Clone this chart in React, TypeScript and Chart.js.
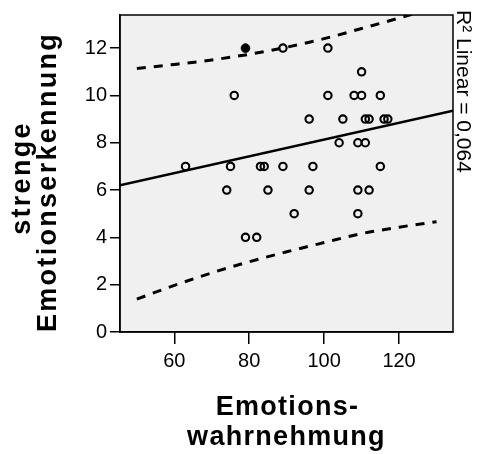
import React, { useEffect, useRef } from "react";
import { Chart, registerables } from "chart.js";

Chart.register(...registerables);

const FONT = "'Liberation Sans', Arial, Helvetica, sans-serif";

// axis ranges and ticks
const xMin = 45.5;
const xMax = 134.4;
const yMin = 0;
const yMax = 13.4;
const xTicks = [60, 80, 100, 120];
const yTicks = [0, 2, 4, 6, 8, 10, 12];

// observed points (Emotionswahrnehmung, strenge Emotionserkennung)
const wahrnehmung = [
  89, 101,
  110,
  76, 101, 108, 110, 115,
  96, 105, 111, 112, 116, 117,
  104, 109, 111,
  63, 75, 83, 84, 89, 97, 115,
  74, 85, 96, 109, 112,
  92, 109,
  79, 82,
];
const erkennung = [
  12, 12,
  11,
  10, 10, 10, 10, 10,
  9, 9, 9, 9, 9, 9,
  8, 8, 8,
  7, 7, 7, 7, 7, 7, 7,
  6, 6, 6, 6, 6,
  5, 5,
  4, 4,
];

// highlighted (filled) point
const highlightX = [79];
const highlightY = [12];

// linear fit line
const fitX = [45.5, 134.4];
const fitY = [6.2, 9.35];

// prediction interval curves
const bandX = [50, 60, 70, 80, 90, 100, 110, 120, 130];
const bandUpper = [11.14, 11.31, 11.5, 11.74, 12.04, 12.4, 12.83, 13.27, 13.72];
const bandLower = [1.39, 1.97, 2.5, 2.97, 3.39, 3.78, 4.16, 4.43, 4.66];

const xTitle = ["Emotions-", "wahrnehmung"];
const yTitle = ["strenge", "Emotionserkennung"];
const r2Label = "R\u00B2 Linear = 0,064";

const toXY = (xs: number[], ys: number[]) => xs.map((x, i) => ({ x, y: ys[i] }));

const decorPlugin = {
  id: "decor",
  beforeDraw(chart: any) {
    const { ctx, chartArea: a } = chart;
    ctx.save();
    ctx.fillStyle = "#f0f0f0";
    ctx.fillRect(a.left, a.top, a.right - a.left, a.bottom - a.top);
    ctx.restore();
  },
  afterDraw(chart: any) {
    const { ctx, chartArea: a } = chart;
    ctx.save();
    ctx.strokeStyle = "#000";
    ctx.lineWidth = 1.5;
    ctx.strokeRect(a.left, a.top, a.right - a.left, a.bottom - a.top);

    ctx.fillStyle = "#000";
    // x title
    ctx.font = `bold 27px ${FONT}`;
    (ctx as any).letterSpacing = "1.3px";
    ctx.textAlign = "center";
    ctx.textBaseline = "alphabetic";
    const cx = (a.left + a.right) / 2;
    ctx.fillText(xTitle[0], cx + 1, 415);
    ctx.fillText(xTitle[1], cx, 445);

    // y title
    (ctx as any).letterSpacing = "2.3px";
    ctx.save();
    ctx.translate(29.5, 178);
    ctx.rotate(-Math.PI / 2);
    ctx.fillText(yTitle[0], 0, 0);
    ctx.restore();
    ctx.save();
    ctx.translate(56, 182);
    ctx.rotate(-Math.PI / 2);
    ctx.fillText(yTitle[1], 0, 0);
    ctx.restore();

    // R2 label
    (ctx as any).letterSpacing = "0px";
    ctx.font = `21px ${FONT}`;
    ctx.textAlign = "left";
    ctx.save();
    ctx.translate(a.right + 3.5, 10);
    ctx.rotate(Math.PI / 2);
    ctx.fillText(r2Label, 0, 0);
    ctx.restore();
    ctx.restore();
  },
};

export default function App() {
  const ref = useRef<HTMLCanvasElement | null>(null);
  useEffect(() => {
    if (!ref.current) return;
    const chart = new Chart(ref.current, {
      type: "scatter",
      data: {
        datasets: [
          {
            label: "points",
            data: toXY(wahrnehmung, erkennung),
            pointStyle: "circle",
            pointRadius: 3.7,
            pointBorderWidth: 2.1,
            borderColor: "#000",
            backgroundColor: "rgba(0,0,0,0)",
            showLine: false,
          },
          {
            label: "highlight",
            data: toXY(highlightX, highlightY),
            pointStyle: "circle",
            pointRadius: 4.3,
            pointBorderWidth: 1,
            borderColor: "#000",
            backgroundColor: "#000",
            showLine: false,
          },
          {
            label: "fit",
            data: toXY(fitX, fitY),
            showLine: true,
            borderColor: "#000",
            borderWidth: 2.5,
            pointRadius: 0,
            clip: 0,
          } as any,
          {
            label: "upper",
            data: toXY(bandX, bandUpper),
            showLine: true,
            borderColor: "#000",
            borderWidth: 3,
            borderDash: [9, 8],
            pointRadius: 0,
            cubicInterpolationMode: "monotone",
            clip: 0,
          } as any,
          {
            label: "lower",
            data: toXY(bandX, bandLower),
            showLine: true,
            borderColor: "#000",
            borderWidth: 3,
            borderDash: [9, 8],
            pointRadius: 0,
            cubicInterpolationMode: "monotone",
            clip: 0,
          } as any,
        ],
      },
      options: {
        responsive: false,
        animation: false,
        devicePixelRatio: 1,
        layout: { padding: { left: 0, top: 8, right: 27, bottom: 0 } },
        plugins: {
          legend: { display: false },
          tooltip: { enabled: false },
        },
        scales: {
          x: {
            type: "linear",
            min: xMin,
            max: xMax,
            afterBuildTicks: (s: any) => {
              s.ticks = xTicks.map((v) => ({ value: v }));
            },
            afterFit: (s: any) => {
              s.height = 122;
            },
            grid: {
              drawOnChartArea: false,
              drawTicks: true,
              tickLength: 12,
              color: "#000",
              lineWidth: 1.5,
            },
            border: { display: true, color: "#000", width: 1.5 },
            ticks: {
              color: "#000",
              font: { family: FONT, size: 20 },
              padding: 5,
              maxRotation: 0,
              autoSkip: false,
            },
          },
          y: {
            type: "linear",
            min: yMin,
            max: yMax,
            afterBuildTicks: (s: any) => {
              s.ticks = yTicks.map((v) => ({ value: v }));
            },
            afterFit: (s: any) => {
              s.width = 120;
            },
            grid: {
              drawOnChartArea: false,
              drawTicks: true,
              tickLength: 10,
              color: "#000",
              lineWidth: 1.5,
            },
            border: { display: true, color: "#000", width: 1.5 },
            ticks: {
              color: "#000",
              font: { family: FONT, size: 20 },
              padding: 3,
              autoSkip: false,
            },
          },
        },
      } as any,
      plugins: [decorPlugin],
    });
    return () => chart.destroy();
  }, []);

  return (
    <div
      style={{
        position: "fixed",
        left: 0,
        top: 0,
        width: 480,
        height: 454,
        background: "#fff",
      }}
    >
      <canvas ref={ref} width={480} height={454} style={{ display: "block" }} />
    </div>
  );
}
